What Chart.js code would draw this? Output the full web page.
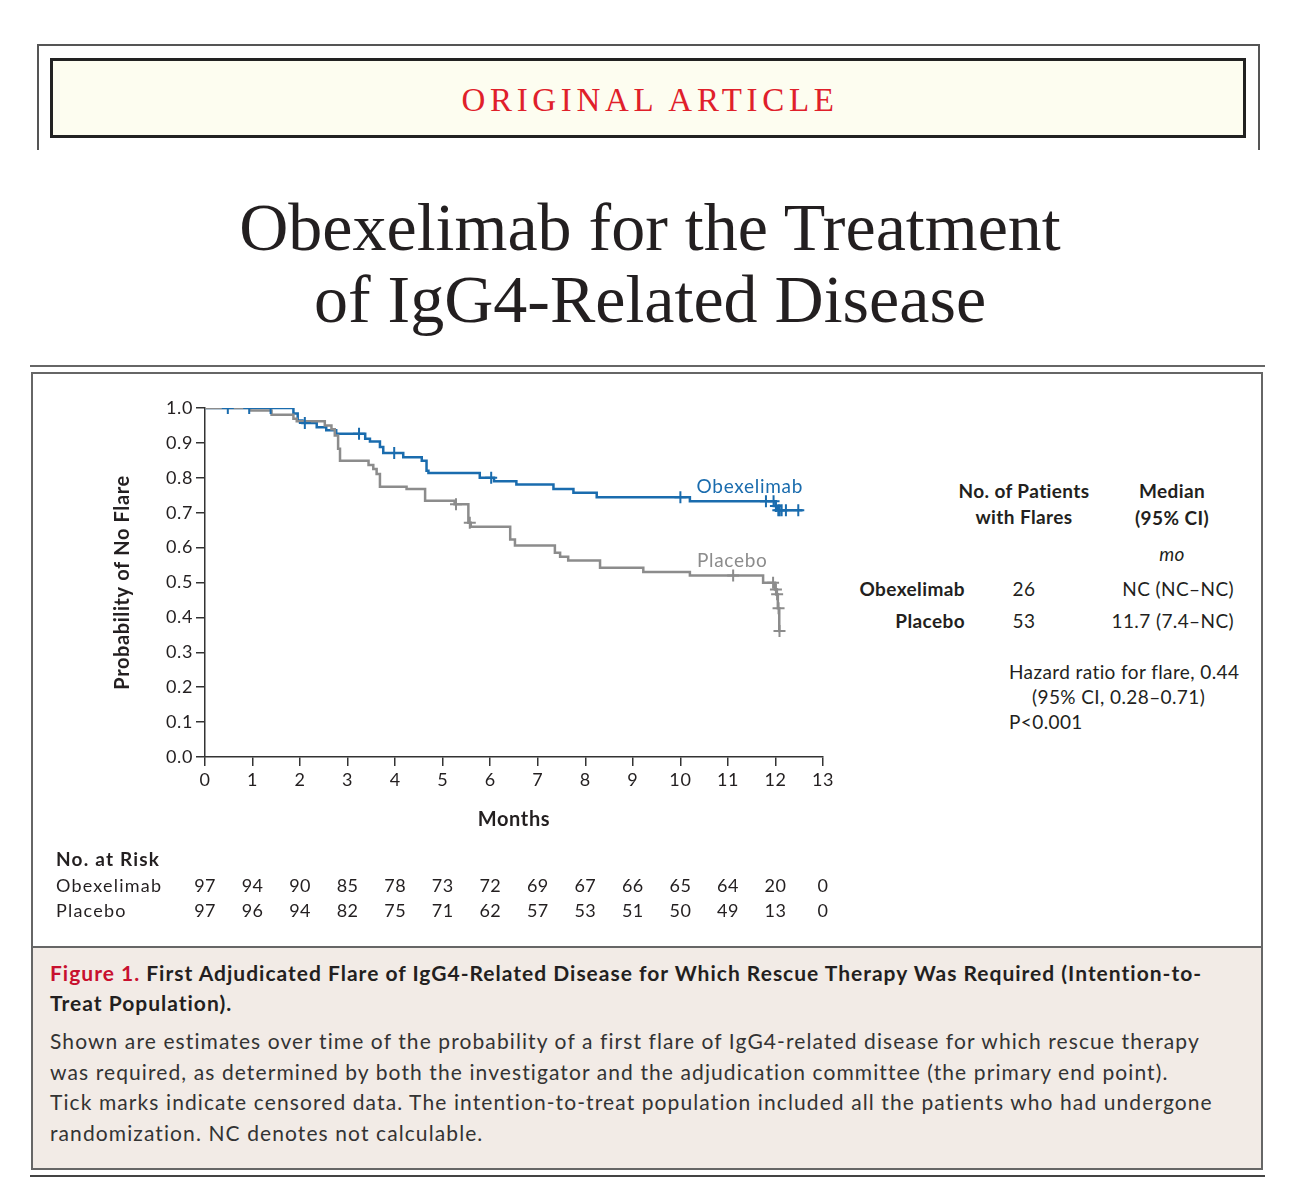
<!DOCTYPE html>
<html>
<head>
<meta charset="utf-8">
<script src="https://cdn.jsdelivr.net/npm/chart.js@4.4.1/dist/chart.umd.min.js"></script>
<style>
  body { margin: 0; width: 1290px; height: 1202px; background: #fff; position: relative; overflow: hidden; font-family: Lato, "Open Sans", sans-serif; color: #231f20; }
  .abs { position: absolute; white-space: nowrap; line-height: 1; }
  .c { transform: translate(-50%, -50%); text-align: center; }
  .r { transform: translate(-100%, -50%); text-align: right; }
  .l { transform: translate(0, -50%); }
  .b { font-weight: bold; letter-spacing: 1px; font-size: 19px !important; }

  #frame { position: absolute; left: 37px; top: 44px; width: 1219px; height: 104px; border: 2px solid #555; border-bottom: none; }
  #banner { position: absolute; left: 50px; top: 58px; width: 1190px; height: 74px; border: 3px solid #222; background: #fdfdf0;
            display: flex; align-items: center; justify-content: center; }
  #banner span { font-family: "Liberation Serif", serif; font-size: 33px; letter-spacing: 4.7px; color: #e0202a; padding-top: 4px; padding-left: 4px; }
  #title { position: absolute; left: 0; width: 1300px; top: 191px; text-align: center; font-family: "Liberation Serif", serif;
           font-size: 68px; line-height: 72px; color: #231f20; }

  #topRule { position: absolute; left: 30px; top: 365px; width: 1235px; border-top: 2px solid #666; }
  #box { position: absolute; left: 31px; top: 372px; width: 1228px; height: 794px; border: 2px solid #666; }
  #caption { position: absolute; left: 31px; top: 946px; width: 1228px; height: 220px; border: 2px solid #666; background: #f2ebe6; }
  #botRule { position: absolute; left: 30px; top: 1175px; width: 1235px; border-top: 2px solid #444; }

  #chartWrap { position: absolute; left: 32px; top: 375px; width: 818px; height: 560px; }

  .tbl { font-size: 19px; letter-spacing: 0.4px; }
  #capText { position: absolute; left: 50px; top: 958px; font-size: 21px; color: #333; white-space: nowrap; }
  #capText .head { font-weight: bold; line-height: 30px; color: #231f20; letter-spacing: 1px; }
  #capText .head .fig { color: #c8102e; }
  #capText .body { line-height: 30.7px; margin-top: 8px; letter-spacing: 1.1px; }
</style>
</head>
<body>

<div id="frame"></div>
<div id="banner"><span>ORIGINAL ARTICLE</span></div>
<div id="title">Obexelimab for the Treatment<br>of IgG4-Related Disease</div>

<div id="topRule"></div>
<div id="box"></div>
<div id="caption"></div>
<div id="botRule"></div>

<div id="chartWrap"><canvas id="km" width="818" height="560"></canvas></div>

<!-- summary table to the right of the plot -->
<div class="abs c b tbl" style="left:1024px; top:490px;">No. of Patients</div>
<div class="abs c b tbl" style="left:1024px; top:516px;">with Flares</div>
<div class="abs c b tbl" style="left:1172px; top:490px;">Median</div>
<div class="abs c b tbl" style="left:1172px; top:517px;">(95% CI)</div>
<div class="abs c tbl" style="left:1172px; top:553px; font-style:italic;">mo</div>
<div class="abs r b tbl" style="left:965px; top:588px;">Obexelimab</div>
<div class="abs c tbl" style="left:1024px; top:588px;">26</div>
<div class="abs r tbl" style="left:1234px; top:588px;">NC (NC–NC)</div>
<div class="abs r b tbl" style="left:965px; top:620px;">Placebo</div>
<div class="abs c tbl" style="left:1024px; top:620px;">53</div>
<div class="abs r tbl" style="left:1234px; top:620px;">11.7 (7.4–NC)</div>
<div class="abs l tbl" style="left:1009px; top:671px;">Hazard ratio for flare, 0.44</div>
<div class="abs l tbl" style="left:1032px; top:696px;">(95% CI, 0.28–0.71)</div>
<div class="abs l tbl" style="left:1009px; top:721px;">P&lt;0.001</div>

<div id="capText">
  <div class="head"><span class="fig">Figure 1.</span> First Adjudicated Flare of IgG4-Related Disease for Which Rescue Therapy Was Required (Intention-to-<br>Treat Population).</div>
  <div class="body">Shown are estimates over time of the probability of a first flare of IgG4-related disease for which rescue therapy<br>was required, as determined by both the investigator and the adjudication committee (the primary end point).<br>Tick marks indicate censored data. The intention-to-treat population included all the patients who had undergone<br>randomization. NC denotes not calculable.</div>
</div>

<script>
// x axis: months, and the numbers at risk under each month
const months = [0, 1, 2, 3, 4, 5, 6, 7, 8, 9, 10, 11, 12, 13];
const obxRisk = [97, 94, 90, 85, 78, 73, 72, 69, 67, 66, 65, 64, 20, 0];
const plcRisk = [97, 96, 94, 82, 75, 71, 62, 57, 53, 51, 50, 49, 13, 0];
const yTicks = [0, 0.1, 0.2, 0.3, 0.4, 0.5, 0.6, 0.7, 0.8, 0.9, 1.0];

// Kaplan-Meier steps: time (mo) and probability after the step
const obxTimes = [0, 1.86, 1.95, 2.05, 2.35, 2.55, 2.76, 3.37, 3.47, 3.68, 3.75, 4.17, 4.56, 4.66, 4.70, 5.78, 6.08, 6.55, 7.33, 7.75, 8.24, 10.2, 12.0, 12.03, 12.57];
const obxSurv  = [1.0, 0.984, 0.964, 0.957, 0.945, 0.936, 0.926, 0.912, 0.904, 0.888, 0.871, 0.859, 0.849, 0.820, 0.814, 0.800, 0.790, 0.781, 0.768, 0.757, 0.744, 0.733, 0.719, 0.707, 0.707];
const plcTimes = [0, 0.95, 1.40, 1.86, 1.93, 2.52, 2.66, 2.73, 2.80, 2.84, 3.44, 3.54, 3.61, 3.68, 4.24, 4.63, 5.25, 5.54, 5.59, 6.42, 6.52, 7.36, 7.47, 7.64, 8.31, 9.22, 10.2, 11.74, 11.99, 12.02, 12.05, 12.08, 12.09];
const plcSurv  = [1.0, 0.993, 0.981, 0.969, 0.962, 0.950, 0.939, 0.921, 0.883, 0.849, 0.837, 0.825, 0.811, 0.774, 0.768, 0.734, 0.724, 0.671, 0.660, 0.623, 0.606, 0.585, 0.574, 0.563, 0.542, 0.530, 0.520, 0.499, 0.480, 0.466, 0.426, 0.361, 0.361];

// censored observations (months)
const obxCensor = [0.48, 0.93, 1.38, 2.10, 3.24, 3.98, 6.02, 10.0, 11.80, 11.96, 12.01, 12.06, 12.09, 12.13, 12.22, 12.48];
const plcCensor = [5.28, 5.57, 11.11, 11.95, 12.01, 12.035, 12.065, 12.085];

const BLUE = '#1a6cae';
const GREY = '#8c8c8c';
const INK = '#231f20';

function survAt(times, surv, t) {
  let s = surv[0];
  for (let i = 0; i < times.length; i++) if (times[i] <= t) s = surv[i];
  return s;
}

const curve = (times, surv) => times.map((t, i) => ({ x: t, y: surv[i] }));
const ticks = (cens, times, surv) => cens.map(t => ({ x: t, y: survAt(times, surv, t) }));

// a little letter spacing for the axis text, closer to the journal face
const spacing = {
  id: 'spacing',
  beforeDraw(chart) { chart.ctx.letterSpacing = '0.6px'; },
  afterDraw(chart) { chart.ctx.letterSpacing = '0px'; }
};

// risk table + curve labels
const extras = {
  id: 'extras',
  afterDraw(chart) {
    const { ctx, scales: { x, y } } = chart;
    ctx.save();
    ctx.textBaseline = 'middle';
    ctx.fillStyle = INK;
    ctx.textAlign = 'left';
    ctx.letterSpacing = '1.2px';
    ctx.font = 'bold 19px Lato';
    ctx.fillText('No. at Risk', 24, 485);
    ctx.font = '18px Lato';
    ctx.fillText('Obexelimab', 24, 511);
    ctx.fillText('Placebo', 24, 536);
    ctx.letterSpacing = '0.4px';
    ctx.textAlign = 'center';
    months.forEach((m, i) => {
      const px = x.getPixelForValue(m);
      ctx.fillText(String(obxRisk[i]), px, 511);
      ctx.fillText(String(plcRisk[i]), px, 536);
    });
    ctx.letterSpacing = '0.7px';
    ctx.font = '19px Lato';
    ctx.fillStyle = BLUE;
    ctx.fillText('Obexelimab', x.getPixelForValue(11.46), y.getPixelForValue(0.774));
    ctx.fillStyle = GREY;
    ctx.fillText('Placebo', x.getPixelForValue(11.09), y.getPixelForValue(0.562));
    ctx.restore();
  }
};

new Chart(document.getElementById('km'), {
  type: 'line',
  data: {
    datasets: [
      { data: ticks(plcCensor, plcTimes, plcSurv), showLine: false, pointStyle: 'cross',
        pointRadius: 6, pointBorderWidth: 2, borderColor: GREY, pointBorderColor: GREY },
      { data: ticks(obxCensor, obxTimes, obxSurv), showLine: false, pointStyle: 'cross',
        pointRadius: 6, pointBorderWidth: 2, borderColor: BLUE, pointBorderColor: BLUE },
      { data: curve(plcTimes, plcSurv), stepped: true, borderColor: GREY, borderWidth: 2.5, pointRadius: 0, fill: false },
      { data: curve(obxTimes, obxSurv), stepped: true, borderColor: BLUE, borderWidth: 2.5, pointRadius: 0, fill: false }
    ]
  },
  options: {
    responsive: false,
    animation: false,
    events: [],
    layout: { padding: { top: 33, right: 27, left: 0, bottom: 0 } },
    plugins: { legend: { display: false }, tooltip: { enabled: false } },
    scales: {
      x: {
        type: 'linear', min: 0, max: 13,
        afterFit: s => { s.height = 178; },
        afterBuildTicks: s => { s.ticks = months.map(v => ({ value: v })); },
        ticks: { color: INK, font: { family: 'Lato', size: 18 }, padding: 3, maxRotation: 0 },
        grid: { drawOnChartArea: false, drawTicks: true, tickLength: 9, color: '#333', lineWidth: 1.5 },
        border: { display: true, color: '#333', width: 1.5 },
        title: { display: true, text: 'Months', color: INK, font: { family: 'Lato', size: 20, weight: 'bold' }, padding: { top: 0, bottom: 103 } }
      },
      y: {
        min: 0, max: 1,
        afterFit: s => { s.width = 173; },
        afterBuildTicks: s => { s.ticks = yTicks.map(v => ({ value: v })); },
        ticks: { color: INK, font: { family: 'Lato', size: 18 }, padding: 3, callback: v => v.toFixed(1) },
        grid: { drawOnChartArea: false, drawTicks: true, tickLength: 9, color: '#333', lineWidth: 1.5 },
        border: { display: true, color: '#333', width: 1.5 },
        title: { display: true, text: 'Probability of No Flare', color: INK, font: { family: 'Lato', size: 20, weight: 'bold' }, padding: { top: 79, bottom: 0 } }
      }
    }
  },
  plugins: [spacing, extras]
});
</script>
</body>
</html>
